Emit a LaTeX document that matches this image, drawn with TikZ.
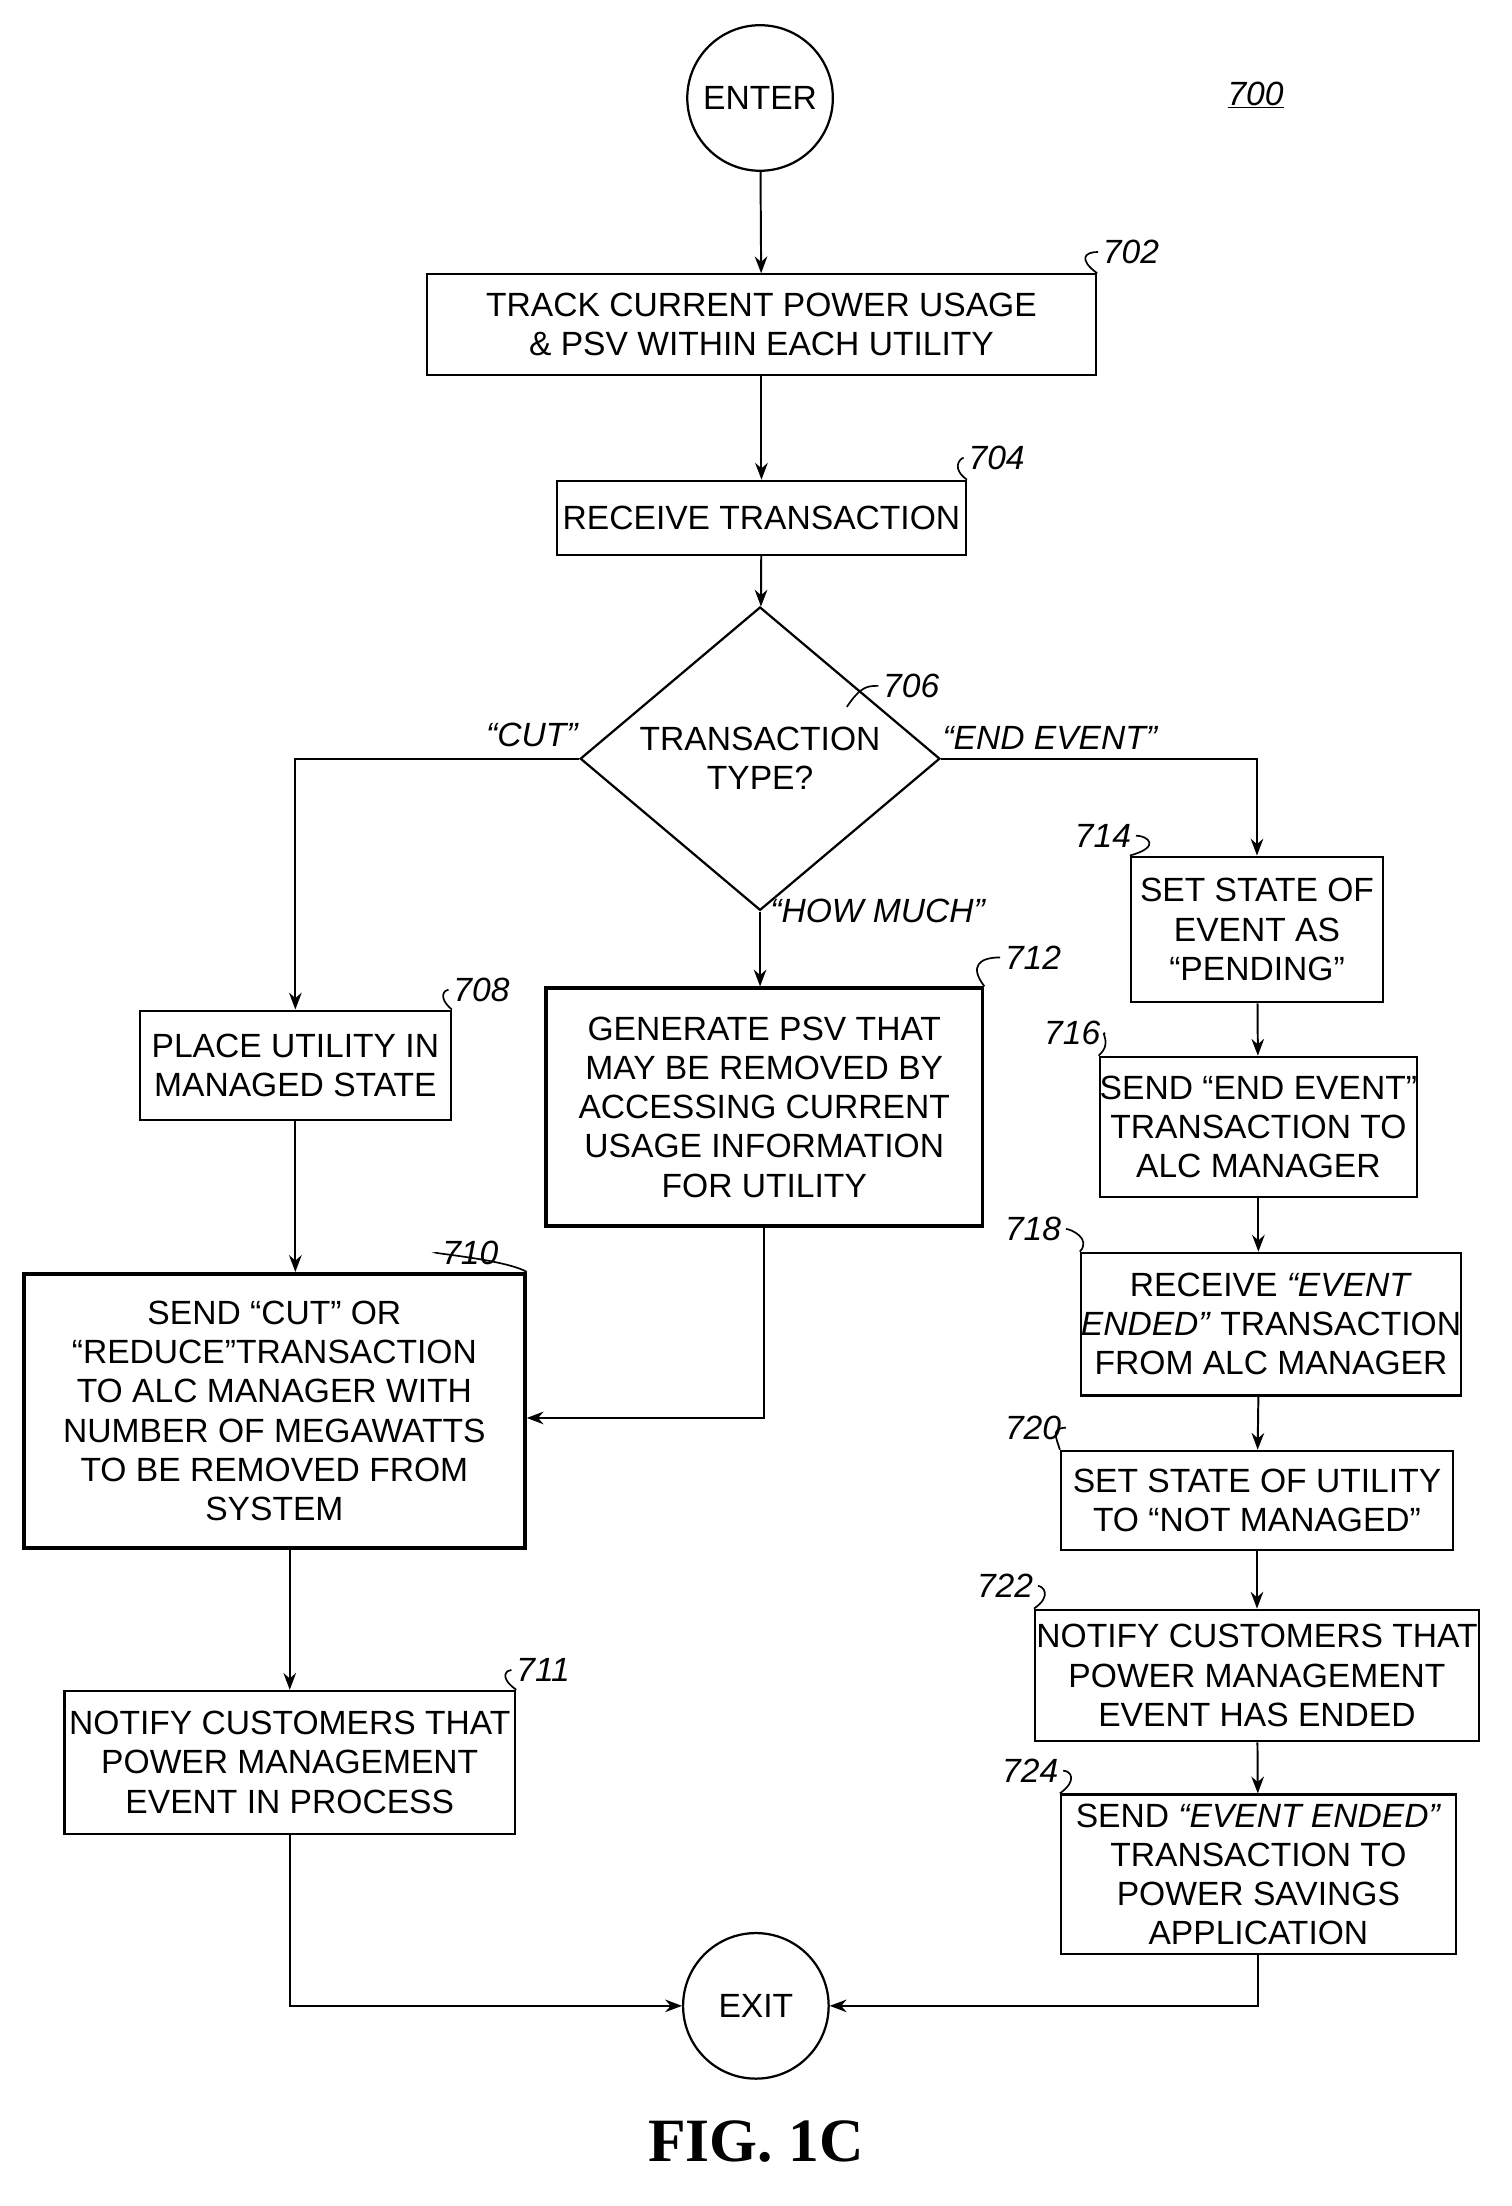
\documentclass[tikz,border=0pt]{standalone}
\usepackage{fontspec}
\setmainfont{Liberation Sans}
\newfontfamily\serifb{Liberation Serif}
\usetikzlibrary{shapes.geometric,arrows.meta}
\begin{document}
\begin{tikzpicture}[x=1pt,y=-1pt,
 box/.style={draw,line width=1.6pt,align=center,font=\fontsize{24}{28}\selectfont,inner sep=0pt},
 thick box/.style={box,line width=2.6pt},
 term/.style={draw,circle,line width=1.6pt,minimum size=104pt,font=\fontsize{24}{28}\selectfont,inner sep=0pt},
 lab/.style={font=\fontsize{24}{28}\selectfont\itshape},
 arr/.style={line width=1.4pt,-{Stealth[length=12pt,width=9pt]}},
 lead/.style={line width=1.2pt}]
\useasboundingbox (0,0) rectangle (1080,1576);
\node[term] (enter) at (543,70) {ENTER};
\node[lab] (n700) at (897,68) {\underline{700}};
\node[box,minimum width=478pt,minimum height=72pt] (b702) at (544,232) {TRACK CURRENT POWER USAGE\\\& PSV WITHIN EACH UTILITY};
\node[box,minimum width=292pt,minimum height=53pt] (b704) at (544,370) {RECEIVE TRANSACTION};
\node[draw,diamond,line width=1.6pt,minimum width=257pt,minimum height=149pt,align=center,font=\fontsize{24}{28}\selectfont,inner sep=0pt] (d706) at (543,542) {TRANSACTION\\TYPE?};
\node[box,minimum width=222pt,minimum height=78pt] (b708) at (211,761) {PLACE UTILITY IN\\MANAGED STATE};
\node[thick box,minimum width=312pt,minimum height=170pt] (b712) at (546,791) {GENERATE PSV THAT\\MAY BE REMOVED BY\\ACCESSING CURRENT\\USAGE INFORMATION\\FOR UTILITY};
\node[thick box,minimum width=358pt,minimum height=196pt] (b710) at (196,1008) {SEND “CUT” OR\\“REDUCE”TRANSACTION\\TO ALC MANAGER WITH\\NUMBER OF MEGAWATTS\\TO BE REMOVED FROM\\SYSTEM};
\node[box,minimum width=322pt,minimum height=102pt] (b711) at (207,1259) {NOTIFY CUSTOMERS THAT\\POWER MANAGEMENT\\EVENT IN PROCESS};
\node[box,minimum width=180pt,minimum height=104pt] (b714) at (898,664) {SET STATE OF\\EVENT AS\\“PENDING”};
\node[box,minimum width=226pt,minimum height=100pt] (b716) at (899,805) {SEND “END EVENT”\\TRANSACTION TO\\ALC MANAGER};
\node[box,minimum width=244pt,minimum height=102pt] (b718) at (908,946) {RECEIVE \textit{“EVENT}\\\textit{ENDED”} TRANSACTION\\FROM ALC MANAGER};
\node[box,minimum width=280pt,minimum height=71pt] (b720) at (898,1072) {SET STATE OF UTILITY\\TO “NOT MANAGED”};
\node[box,minimum width=317pt,minimum height=94pt] (b722) at (898,1197) {NOTIFY CUSTOMERS THAT\\POWER MANAGEMENT\\EVENT HAS ENDED};
\node[box,minimum width=282pt,minimum height=114pt] (b724) at (899,1339) {SEND \textit{“EVENT ENDED”}\\TRANSACTION TO\\POWER SAVINGS\\APPLICATION};
\node[term] (exit) at (540,1433) {EXIT};
\node[font=\serifb\bfseries\fontsize{44}{50}\selectfont] (fig) at (540,1530) {FIG. 1C};
% edge labels
\node[lab] (lcut) at (380,525) {“CUT”};
\node[lab] (lend) at (750,527) {“END EVENT”};
\node[lab] (lhow) at (627,651) {“HOW MUCH”};
% reference numbers
\node[lab] (n702) at (808,180) {702};
\node[lab] (n704) at (712,327) {704};
\node[lab] (n706) at (651,490) {706};
\node[lab] (n708) at (344,707) {708};
\node[lab] (n712) at (738,684) {712};
\node[lab] (n710) at (336,895) {710};
\node[lab] (n711) at (388,1193) {711};
\node[lab] (n714) at (788,597) {714};
\node[lab] (n716) at (766,738) {716};
\node[lab] (n718) at (738,878) {718};
\node[lab] (n720) at (738,1020) {720};
\node[lab] (n722) at (718,1133) {722};
\node[lab] (n724) at (736,1265) {724};
\draw[lead] (b702.north east) .. controls (770,185) and (775,180) .. (n702.west);
\draw[lead] (b704.north east) .. controls (680,335) and (685,328) .. (n704.west);
\draw[lead] (605,505) .. controls (615,490) and (620,490) .. (n706.west);
\draw[lead] (b708.north east) .. controls (312,712) and (318,707) .. (n708.west);
\draw[lead] (b712.north east) .. controls (692,690) and (700,684) .. (n712.west);
\draw[lead] (b710.north east) .. controls (362,900) and (306,895) .. (n710.west);
\draw[lead] (b711.north east) .. controls (356,1198) and (362,1193) .. (n711.west);
\draw[lead] (n714.east) .. controls (820,597) and (830,605) .. (b714.north west);
\draw[lead] (n716.east) .. controls (786,738) and (795,745) .. (b716.north west);
\draw[lead] (n718.east) .. controls (765,878) and (780,885) .. (b718.north west);
\draw[lead] (n720.east) .. controls (750,1020) and (755,1028) .. (b720.north west);
\draw[lead] (n722.east) .. controls (745,1133) and (752,1140) .. (b722.north west);
\draw[lead] (n724.east) .. controls (765,1265) and (770,1272) .. (b724.north west);
% connectors
\draw[arr] (enter) -- (b702);
\draw[arr] (b702) -- (b704);
\draw[arr] (b704) -- (d706);
\draw[arr] (d706.west) -| (b708.north);
\draw[arr] (d706.east) -| (b714.north);
\draw[arr] (d706.south) -- (b712.north -| d706.south);
\draw[arr] (b708) -- (b710.north -| b708);
\draw[arr] (b712.south) |- ([yshift=-5pt]b710.east);
\draw[arr] (b710.south -| b711) -- (b711);
\draw[arr] (b714) -- (b716);
\draw[arr] (b716) -- (b716|-b718.north);
\draw[arr] (b716|-b718.south) -- (b720);
\draw[arr] (b720) -- (b722);
\draw[arr] (b722) -- (b724);
\draw[arr] (b711.south) |- (exit.west);
\draw[arr] (b724.south) |- (exit.east);
\end{tikzpicture}
\end{document}
